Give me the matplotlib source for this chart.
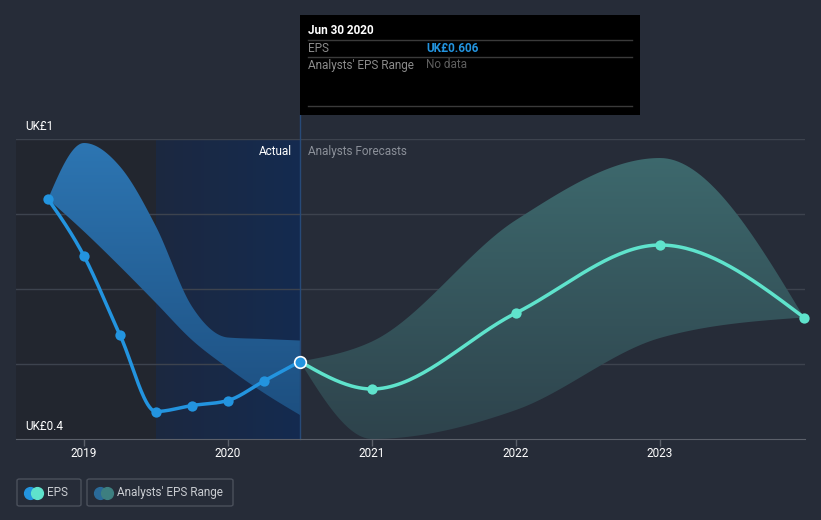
import numpy as np
import matplotlib
matplotlib.use("Agg")
import matplotlib.pyplot as plt
from matplotlib.colors import LinearSegmentedColormap
from matplotlib.patches import FancyBboxPatch

plt.rcParams["font.family"] = ["Roboto", "DejaVu Sans"]

# EPS history (quarterly) and analyst forecasts, in GBP
actual_x = [2018.75, 2019.0, 2019.25, 2019.5, 2019.75, 2020.0, 2020.25, 2020.5]
actual_eps = [0.880, 0.766, 0.608, 0.455, 0.467, 0.477, 0.516, 0.555]
actual_hi = [0.880, 0.992, 0.945, 0.825, 0.665, 0.603, 0.600, 0.597]
actual_lo = [0.880, 0.815, 0.745, 0.672, 0.598, 0.542, 0.492, 0.448]

fc_x = [2020.5, 2021.0, 2022.0, 2023.0, 2024.0]
fc_eps = [0.555, 0.500, 0.652, 0.788, 0.643]
fc_hi = [0.555, 0.595, 0.838, 0.962, 0.643]
fc_lo = [0.555, 0.400, 0.458, 0.602, 0.643]

year_ticks = [2019, 2020, 2021, 2022, 2023]
y_labels = ["UK£1", "UK£0.4"]

BG = "#262c38"
BLUE = "#2394df"
TEAL = "#5fe3cc"


def monotone(xs, ys, n=40):
    """Monotone cubic curve through the points (like d3 curveMonotoneX)."""
    xs = np.asarray(xs, float)
    ys = np.asarray(ys, float)
    h = np.diff(xs)
    d = np.diff(ys) / h
    m = np.zeros(len(xs))
    for i in range(1, len(xs) - 1):
        if d[i - 1] * d[i] <= 0:
            m[i] = 0
        else:
            p = (d[i - 1] * h[i] + d[i] * h[i - 1]) / (h[i - 1] + h[i])
            m[i] = (np.sign(d[i - 1]) + np.sign(d[i])) * min(abs(d[i - 1]), abs(d[i]), 0.5 * abs(p))
    m[0] = (3 * d[0] - m[1]) / 2
    m[-1] = (3 * d[-1] - m[-2]) / 2
    out_x, out_y = [], []
    for i in range(len(xs) - 1):
        t = np.linspace(0, 1, n)
        h00 = 2 * t**3 - 3 * t**2 + 1
        h10 = t**3 - 2 * t**2 + t
        h01 = -2 * t**3 + 3 * t**2
        h11 = t**3 - t**2
        out_x.extend(xs[i] + t * h[i])
        out_y.extend(h00 * ys[i] + h10 * h[i] * m[i] + h01 * ys[i + 1] + h11 * h[i] * m[i + 1])
    return np.array(out_x), np.array(out_y)


def gradient_band(ax, x, lo, hi, top_color, bottom_color, z):
    bx, bhi = monotone(x, hi)
    _, blo = monotone(x, lo)
    poly = ax.fill_between(bx, blo, bhi, color="none", lw=0)
    cmap = LinearSegmentedColormap.from_list("g", [bottom_color, top_color])
    grad = np.linspace(0, 1, 256).reshape(-1, 1)
    im = ax.imshow(grad, cmap=cmap, aspect="auto", origin="lower",
                   extent=[bx.min(), bx.max(), 0.4, 1.0], zorder=z)
    im.set_clip_path(poly.get_paths()[0], transform=ax.transData)


fig = plt.figure(figsize=(8.21, 5.2), dpi=100, facecolor=BG)
W, H = 821, 520
ax = fig.add_axes([16 / W, (H - 439) / H, (805 - 16) / W, (439 - 139) / H], facecolor=BG)
x0, x1 = 2018.528, 2024.007

# past region shading
ax.axvspan(x0, 2019.5, color="#22262f", zorder=0, lw=0)
cmap_hl = LinearSegmentedColormap.from_list("hl", ["#1c2840", "#142b50"])
ax.imshow(np.linspace(0, 1, 256).reshape(1, -1), cmap=cmap_hl, aspect="auto",
          extent=[2019.5, 2020.5, 0.4, 1.0], zorder=0.5)
ax.set_xlim(x0, x1)
ax.set_ylim(0.4, 1.0)

# gridlines
for v in [0.55, 0.7, 0.85, 1.0]:
    ax.axhline(v, color="#3d434e", lw=1, zorder=1)

gradient_band(ax, actual_x, actual_lo, actual_hi, "#2d76b3", "#1c4c7c", 2)
gradient_band(ax, fc_x, fc_lo, fc_hi, "#3e6b6f", "#2e434c", 2)

# EPS lines
lx, ly = monotone(actual_x, actual_eps)
ax.plot(lx, ly, color=BLUE, lw=2.5, zorder=4, solid_capstyle="round")
ax.scatter(actual_x[:-1], actual_eps[:-1], s=55, color=BLUE, zorder=5, lw=0)
fx, fy = monotone(fc_x, fc_eps)
ax.plot(fx, fy, color=TEAL, lw=2.5, zorder=4)
ax.scatter(fc_x[1:], fc_eps[1:], s=55, color=TEAL, zorder=5, lw=0, clip_on=False)
ax.scatter([actual_x[-1]], [actual_eps[-1]], s=70, color=BLUE, edgecolor="white",
           lw=1.2, zorder=6)

# today line
ax.plot([2020.5, 2020.5], [0.4, 1.048], color="#274a78", lw=1, zorder=3, clip_on=False)

ax.text(2020.445, 0.975, "Actual", color="white", fontsize=8.5, ha="right", va="center", zorder=7)
ax.text(2020.555, 0.975, "Analysts Forecasts", color="#8b9099", fontsize=8.5, ha="left", va="center", zorder=7)

for s in ["top", "right", "left"]:
    ax.spines[s].set_visible(False)
ax.spines["bottom"].set_color("#5b606a")
ax.spines["bottom"].set_zorder(8)
ax.set_yticks([])
ax.set_xticks(year_ticks)
ax.set_xticklabels([str(y) for y in year_ticks])
ax.tick_params(axis="x", colors="#5b606a", length=5, width=1, labelcolor="white", labelsize=8.5, pad=1)

fig.text(25 / W, 1 - 127 / H, y_labels[0], color="white", fontsize=8.5, va="center")
fig.text(25 / W, 1 - 427 / H, y_labels[1], color="white", fontsize=8.5, va="center")

# tooltip
tip = plt.Rectangle((300 / W, 1 - 115 / H), 340 / W, 100 / H, transform=fig.transFigure,
                    facecolor="black", edgecolor="none", zorder=10)
fig.patches.append(tip)
for yy in [40, 57, 106]:
    fig.add_artist(plt.Line2D([308 / W, 632 / W], [1 - yy / H] * 2, color="#3a3a3a", lw=1, zorder=11))
fig.text(308 / W, 1 - 31 / H, "Jun 30 2020", color="white", fontsize=8.5, fontweight="bold", va="center", zorder=12)
fig.text(308 / W, 1 - 48 / H, "EPS", color="#8b8b8b", fontsize=8.5, va="center", zorder=12)
fig.text(426 / W, 1 - 48 / H, "UK£0.606", color=BLUE, fontsize=8.5, fontweight="bold", va="center", zorder=12)
fig.text(308 / W, 1 - 65 / H, "Analysts' EPS Range", color="#8b8b8b", fontsize=8.5, va="center", zorder=12)
fig.text(426 / W, 1 - 65 / H, "No data", color="#5e5e5e", fontsize=8.5, va="center", zorder=12)


# legend
def legend_box(xl, xr, label, c1, c2):
    box = FancyBboxPatch((xl / W, 1 - 506 / H), (xr - xl) / W, 27 / H,
                         boxstyle="round,pad=0,rounding_size=0.003", transform=fig.transFigure,
                         facecolor=BG, edgecolor="#4a505b", lw=1)
    fig.patches.append(box)
    cy = 1 - 492.5 / H
    for dx, c in [(0, c1), (7, c2)]:
        fig.add_artist(plt.Line2D([(xl + 13 + dx) / W], [cy], marker="o", markersize=8.5,
                                  color=c, lw=0))
    fig.text((xl + 30) / W, cy, label, color="#c9ccd1", fontsize=8.5, va="center")


legend_box(17, 81, "EPS", BLUE, TEAL)
legend_box(87, 233, "Analysts' EPS Range", "#2a6a99", "#3d7f80")

fig.savefig("out.png", dpi=100, facecolor=BG)
